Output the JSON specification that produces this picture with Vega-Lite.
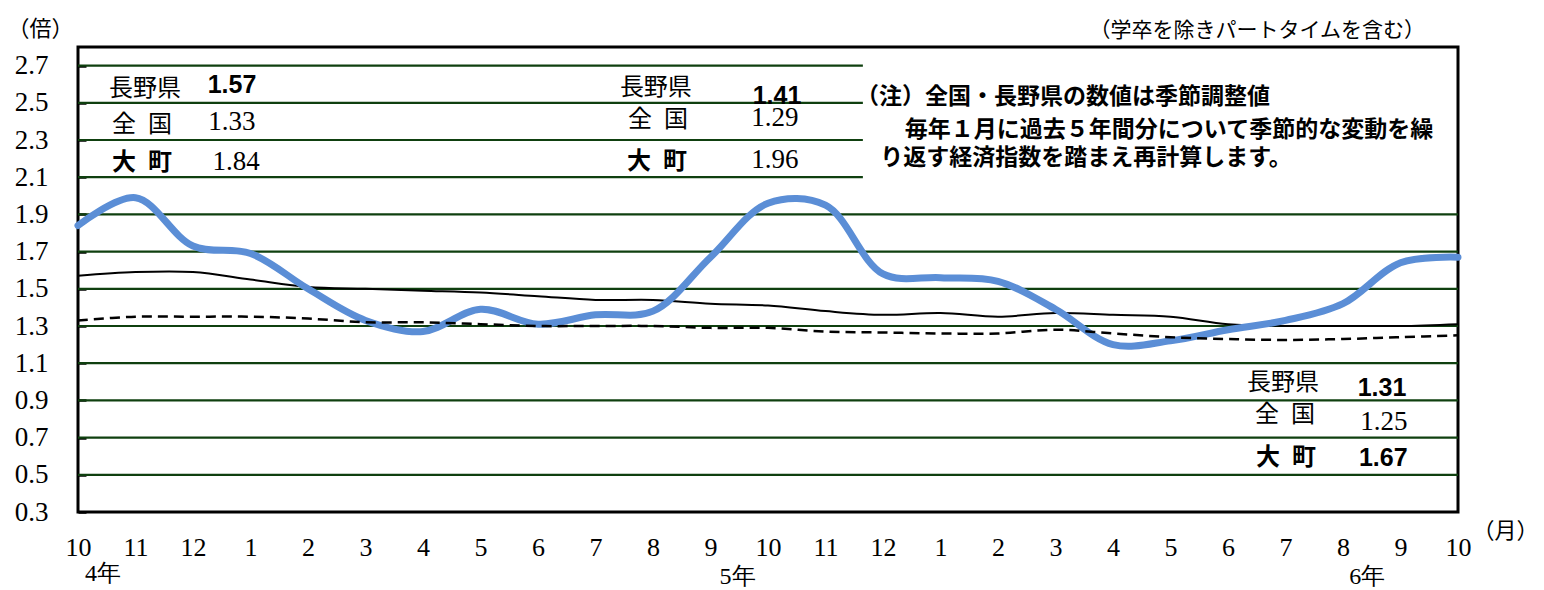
{
  "$schema": "https://vega.github.io/schema/vega-lite/v6.json",
  "width": 1380,
  "height": 465,
  "autosize": {"type": "none"},
  "padding": {"left": 78, "top": 47, "right": 86, "bottom": 78},
  "background": "white",
  "config": {"view": {"stroke": "black", "strokeWidth": 3}, "font": "Noto Sans CJK JP", "axis": {"labelOverlap": false}},
  "title": {"text": "（学卒を除きパートタイムを含む）", "anchor": "end", "frame": "group", "font": "Noto Sans CJK JP", "fontSize": 21, "fontWeight": "normal", "color": "black", "baseline": "middle", "offset": 0, "dy": 35, "dx": -33},
  "datasets": {
    "series": [
      {"i": 0, "omachi": 1.84, "nagano": 1.57, "zenkoku": 1.33},
      {"i": 1, "omachi": 1.99, "nagano": 1.59, "zenkoku": 1.35},
      {"i": 2, "omachi": 1.73, "nagano": 1.59, "zenkoku": 1.35},
      {"i": 3, "omachi": 1.69, "nagano": 1.55, "zenkoku": 1.35},
      {"i": 4, "omachi": 1.50, "nagano": 1.51, "zenkoku": 1.34},
      {"i": 5, "omachi": 1.33, "nagano": 1.50, "zenkoku": 1.32},
      {"i": 6, "omachi": 1.27, "nagano": 1.49, "zenkoku": 1.32},
      {"i": 7, "omachi": 1.39, "nagano": 1.48, "zenkoku": 1.31},
      {"i": 8, "omachi": 1.31, "nagano": 1.46, "zenkoku": 1.30},
      {"i": 9, "omachi": 1.36, "nagano": 1.44, "zenkoku": 1.30},
      {"i": 10, "omachi": 1.38, "nagano": 1.44, "zenkoku": 1.30},
      {"i": 11, "omachi": 1.67, "nagano": 1.42, "zenkoku": 1.29},
      {"i": 12, "omachi": 1.96, "nagano": 1.41, "zenkoku": 1.29},
      {"i": 13, "omachi": 1.95, "nagano": 1.38, "zenkoku": 1.27},
      {"i": 14, "omachi": 1.58, "nagano": 1.36, "zenkoku": 1.265},
      {"i": 15, "omachi": 1.56, "nagano": 1.37, "zenkoku": 1.26},
      {"i": 16, "omachi": 1.54, "nagano": 1.35, "zenkoku": 1.26},
      {"i": 17, "omachi": 1.39, "nagano": 1.37, "zenkoku": 1.28},
      {"i": 18, "omachi": 1.20, "nagano": 1.36, "zenkoku": 1.26},
      {"i": 19, "omachi": 1.22, "nagano": 1.35, "zenkoku": 1.24},
      {"i": 20, "omachi": 1.28, "nagano": 1.31, "zenkoku": 1.23},
      {"i": 21, "omachi": 1.33, "nagano": 1.30, "zenkoku": 1.225},
      {"i": 22, "omachi": 1.42, "nagano": 1.30, "zenkoku": 1.23},
      {"i": 23, "omachi": 1.64, "nagano": 1.30, "zenkoku": 1.24},
      {"i": 24, "omachi": 1.67, "nagano": 1.31, "zenkoku": 1.25}
    ],
    "grid": [
      {"v": 0.5, "a": 0, "b": 24}, {"v": 0.7, "a": 0, "b": 24}, {"v": 0.9, "a": 0, "b": 24},
      {"v": 1.1, "a": 0, "b": 24}, {"v": 1.3, "a": 0, "b": 24}, {"v": 1.5, "a": 0, "b": 24},
      {"v": 1.7, "a": 0, "b": 24}, {"v": 1.9, "a": 0, "b": 24},
      {"v": 2.1, "a": 0, "b": 13.65}, {"v": 2.3, "a": 0, "b": 13.65},
      {"v": 2.5, "a": 0, "b": 13.65}, {"v": 2.7, "a": 0, "b": 13.65}
    ],
    "jpRegular": [
      {"x": 1.165, "y": 2.574, "t": "長野県"},
      {"x": 1.113, "y": 2.381, "t": "全\u2002国"},
      {"x": 10.05, "y": 2.58, "t": "長野県"},
      {"x": 10.087, "y": 2.408, "t": "全\u2002国"},
      {"x": 20.957, "y": 0.994, "t": "長野県"},
      {"x": 20.99, "y": 0.822, "t": "全\u2002国"}
    ],
    "jpBold": [
      {"x": 1.113, "y": 2.176, "t": "大\u2002町"},
      {"x": 10.07, "y": 2.182, "t": "大\u2002町"},
      {"x": 21.01, "y": 0.59, "t": "大\u2002町"}
    ],
    "numSerif": [
      {"x": 2.678, "y": 2.397, "t": "1.33"},
      {"x": 2.748, "y": 2.182, "t": "1.84"},
      {"x": 12.12, "y": 2.418, "t": "1.29"},
      {"x": 12.12, "y": 2.192, "t": "1.96"},
      {"x": 22.71, "y": 0.784, "t": "1.25"}
    ],
    "numBold": [
      {"x": 2.678, "y": 2.596, "t": "1.57"},
      {"x": 12.157, "y": 2.537, "t": "1.41"},
      {"x": 22.678, "y": 0.967, "t": "1.31"},
      {"x": 22.7, "y": 0.59, "t": "1.67"}
    ],
    "note": [
      {"x": 13.53, "y": 2.531, "t": "（注）全国・長野県の数値は季節調整値"},
      {"x": 14.38, "y": 2.354, "t": "毎年１月に過去５年間分について季節的な変動を繰"},
      {"x": 13.95, "y": 2.203, "t": "り返す経済指数を踏まえ再計算します。"}
    ],
    "years": [
      {"x": 0.435, "y": -0.033, "t": "4年"},
      {"x": 11.47, "y": -0.049, "t": "5年"},
      {"x": 22.42, "y": -0.049, "t": "6年"}
    ]
  },
  "layer": [
    {
      "data": {"name": "grid"},
      "mark": {"type": "rule", "color": "#0f400f", "strokeWidth": 2.2},
      "encoding": {
        "x": {"field": "a", "type": "quantitative", "scale": {"domain": [0, 24], "nice": false, "zero": false},
          "axis": {"values": [0,1,2,3,4,5,6,7,8,9,10,11,12,13,14,15,16,17,18,19,20,21,22,23,24], "tickCount": 40,
            "labelExpr": "['10','11','12','1','2','3','4','5','6','7','8','9','10','11','12','1','2','3','4','5','6','7','8','9','10'][datum.value]",
            "labelFont": "Liberation Serif", "labelFontSize": 26, "labelColor": "black", "ticks": false, "domain": false, "grid": false,
            "labelPadding": 22, "labelFlush": false, "labelOverlap": false,
            "title": "（月）", "titleX": 1427, "titleY": 18, "titleAngle": 0, "titleFont": "Noto Sans CJK JP", "titleFontSize": 22,
            "titleFontWeight": "normal", "titleColor": "black", "titleBaseline": "middle", "titleAlign": "center"}},
        "x2": {"field": "b"},
        "y": {"field": "v", "type": "quantitative", "scale": {"domain": [0.3, 2.8], "nice": false, "zero": false},
          "axis": {"values": [0.3,0.5,0.7,0.9,1.1,1.3,1.5,1.7,1.9,2.1,2.3,2.5,2.7], "tickCount": 20, "format": ".1f",
            "labelFont": "Liberation Serif", "labelFontSize": 27, "labelColor": "black",
            "offset": -8, "ticks": true, "tickSize": 8, "tickColor": "black", "tickWidth": 2.5, "domain": false, "grid": false,
            "labelPadding": 30, "labelOverlap": false, "labelFlush": false, "labelBound": false,
            "title": "（倍）", "titleX": -46, "titleY": -19, "titleAngle": 0, "titleFont": "Noto Sans CJK JP", "titleFontSize": 22,
            "titleFontWeight": "normal", "titleColor": "black", "titleBaseline": "middle", "titleAlign": "center"}}
      }
    },
    {
      "data": {"name": "series"},
      "mark": {"type": "line", "color": "black", "strokeWidth": 2, "interpolate": "catmull-rom"},
      "encoding": {"x": {"field": "i", "type": "quantitative"}, "y": {"field": "nagano", "type": "quantitative"}}
    },
    {
      "data": {"name": "series"},
      "mark": {"type": "line", "color": "#5B8ED6", "strokeWidth": 7, "interpolate": "catmull-rom", "strokeCap": "round"},
      "encoding": {"x": {"field": "i", "type": "quantitative"}, "y": {"field": "omachi", "type": "quantitative"}}
    },
    {
      "data": {"name": "series"},
      "mark": {"type": "line", "color": "black", "strokeWidth": 2.5, "strokeDash": [10, 6], "interpolate": "catmull-rom"},
      "encoding": {"x": {"field": "i", "type": "quantitative"}, "y": {"field": "zenkoku", "type": "quantitative"}}
    },
    {
      "data": {"name": "jpRegular"},
      "mark": {"type": "text", "font": "Noto Sans CJK JP", "fontSize": 24, "fontWeight": "normal", "color": "black", "align": "center", "baseline": "middle"},
      "encoding": {"x": {"field": "x", "type": "quantitative"}, "y": {"field": "y", "type": "quantitative"}, "text": {"field": "t"}}
    },
    {
      "data": {"name": "jpBold"},
      "mark": {"type": "text", "font": "Noto Sans CJK JP", "fontSize": 24, "fontWeight": "bold", "color": "black", "align": "center", "baseline": "middle"},
      "encoding": {"x": {"field": "x", "type": "quantitative"}, "y": {"field": "y", "type": "quantitative"}, "text": {"field": "t"}}
    },
    {
      "data": {"name": "numSerif"},
      "mark": {"type": "text", "font": "Liberation Serif", "fontSize": 27, "fontWeight": "normal", "color": "black", "align": "center", "baseline": "middle"},
      "encoding": {"x": {"field": "x", "type": "quantitative"}, "y": {"field": "y", "type": "quantitative"}, "text": {"field": "t"}}
    },
    {
      "data": {"name": "numBold"},
      "mark": {"type": "text", "font": "Liberation Sans", "fontSize": 25, "fontWeight": "bold", "color": "black", "align": "center", "baseline": "middle"},
      "encoding": {"x": {"field": "x", "type": "quantitative"}, "y": {"field": "y", "type": "quantitative"}, "text": {"field": "t"}}
    },
    {
      "data": {"name": "note"},
      "mark": {"type": "text", "font": "Noto Sans CJK JP", "fontSize": 23, "fontWeight": "bold", "color": "black", "align": "left", "baseline": "middle"},
      "encoding": {"x": {"field": "x", "type": "quantitative"}, "y": {"field": "y", "type": "quantitative"}, "text": {"field": "t"}}
    },
    {
      "data": {"name": "years"},
      "mark": {"type": "text", "font": "Liberation Serif", "fontSize": 24, "fontWeight": "normal", "color": "black", "align": "center", "baseline": "middle"},
      "encoding": {"x": {"field": "x", "type": "quantitative"}, "y": {"field": "y", "type": "quantitative"}, "text": {"field": "t"}}
    }
  ]
}
